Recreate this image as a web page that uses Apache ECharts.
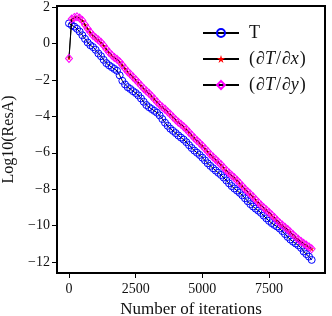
<!DOCTYPE html>
<html>
<head>
<meta charset="utf-8">
<script src="https://cdn.jsdelivr.net/npm/echarts@6/dist/echarts.min.js"></script>
<style>html,body{margin:0;padding:0;background:#fff;}#c{width:332px;height:316px;}</style>
</head>
<body>
<div id="c"></div>
<script>
const iterations = [0,100,200,300,400,500,600,700,800,900,1000,1100,1200,1300,1400,1500,1600,1700,1800,1900,2000,2100,2200,2300,2400,2500,2600,2700,2800,2900,3000,3100,3200,3300,3400,3500,3600,3700,3800,3900,4000,4100,4200,4300,4400,4500,4600,4700,4800,4900,5000,5100,5200,5300,5400,5500,5600,5700,5800,5900,6000,6100,6200,6300,6400,6500,6600,6700,6800,6900,7000,7100,7200,7300,7400,7500,7600,7700,7800,7900,8000,8100,8200,8300,8400,8500,8600,8700,8800,8900,9000,9100];
const resT = [1.10,1.00,0.92,0.80,0.65,0.45,0.25,0.05,-0.10,-0.20,-0.35,-0.55,-0.70,-0.90,-1.08,-1.20,-1.30,-1.40,-1.50,-1.75,-2.05,-2.25,-2.40,-2.50,-2.62,-2.72,-2.85,-3.02,-3.20,-3.38,-3.50,-3.60,-3.70,-3.80,-3.95,-4.15,-4.35,-4.52,-4.68,-4.80,-4.92,-5.05,-5.17,-5.28,-5.42,-5.58,-5.74,-5.88,-6.00,-6.12,-6.27,-6.42,-6.58,-6.72,-6.85,-6.98,-7.10,-7.22,-7.36,-7.52,-7.68,-7.83,-7.96,-8.08,-8.20,-8.34,-8.50,-8.66,-8.82,-8.95,-9.07,-9.18,-9.30,-9.45,-9.60,-9.74,-9.86,-9.96,-10.05,-10.16,-10.30,-10.46,-10.62,-10.76,-10.88,-10.98,-11.08,-11.22,-11.42,-11.56,-11.70,-11.88];
const resDx = [-0.80,1.32,1.42,1.45,1.38,1.25,1.02,0.80,0.60,0.42,0.30,0.18,0.05,-0.12,-0.32,-0.50,-0.65,-0.78,-0.88,-1.02,-1.20,-1.38,-1.56,-1.70,-1.85,-2.00,-2.16,-2.32,-2.48,-2.62,-2.75,-2.90,-3.06,-3.22,-3.38,-3.50,-3.62,-3.76,-3.90,-4.05,-4.20,-4.33,-4.45,-4.58,-4.72,-4.88,-5.04,-5.20,-5.34,-5.48,-5.62,-5.78,-5.94,-6.10,-6.24,-6.38,-6.52,-6.66,-6.82,-6.98,-7.12,-7.25,-7.38,-7.52,-7.68,-7.84,-8.00,-8.14,-8.28,-8.42,-8.58,-8.74,-8.88,-9.02,-9.15,-9.28,-9.42,-9.56,-9.72,-9.86,-9.98,-10.10,-10.22,-10.36,-10.50,-10.64,-10.76,-10.88,-10.98,-11.08,-11.18,-11.28];
const resDy = [-0.82,1.34,1.43,1.46,1.39,1.26,1.03,0.81,0.61,0.43,0.31,0.19,0.06,-0.11,-0.31,-0.49,-0.64,-0.77,-0.87,-1.01,-1.19,-1.37,-1.55,-1.69,-1.84,-1.99,-2.15,-2.31,-2.47,-2.61,-2.74,-2.89,-3.05,-3.21,-3.37,-3.49,-3.61,-3.75,-3.89,-4.04,-4.19,-4.32,-4.44,-4.57,-4.71,-4.87,-5.03,-5.19,-5.33,-5.47,-5.61,-5.77,-5.93,-6.09,-6.23,-6.37,-6.51,-6.65,-6.81,-6.97,-7.11,-7.24,-7.37,-7.51,-7.67,-7.83,-7.99,-8.13,-8.27,-8.41,-8.57,-8.73,-8.87,-9.01,-9.14,-9.27,-9.41,-9.55,-9.71,-9.85,-9.97,-10.09,-10.21,-10.35,-10.49,-10.63,-10.75,-10.87,-10.97,-11.07,-11.17,-11.27];
const xTicks = [0,2500,5000,7500];
const yTicks = [-12,-10,-8,-6,-4,-2,0,2];
const seriesNames = ['T','dTdx','dTdy'];

const F = 'Liberation Serif';
const pair = (ys) => iterations.map((x, i) => [x, ys[i]]);
const fmtMinus = (v) => String(v).replace('-', '\u2212');

const chart = echarts.init(document.getElementById('c'), null, {renderer: 'canvas'});
chart.setOption({
  animation: false,
  backgroundColor: '#fff',
  grid: {left: 57, right: 7, top: 6, bottom: 43, show: true, borderColor: '#000', borderWidth: 2, backgroundColor: 'transparent', containLabel: false, outerBoundsMode: 'none'},
  xAxis: {
    type: 'value', min: -450, max: 9600,
    name: 'Number of iterations', nameLocation: 'middle', nameGap: 25,
    nameTextStyle: {fontFamily: F, fontSize: 17, color: '#111'},
    axisLine: {show: false, onZero: false},
    splitLine: {show: false},
    axisTick: {show: true, inside: false, length: 5, lineStyle: {color: '#000', width: 1}, customValues: xTicks},
    axisLabel: {fontFamily: F, fontSize: 14, color: '#111', margin: 9, customValues: xTicks, formatter: fmtMinus}
  },
  yAxis: {
    type: 'value', min: -12.6, max: 2.055,
    name: 'Log10(ResA)', nameLocation: 'middle', nameGap: 39,
    nameTextStyle: {fontFamily: F, fontSize: 16, color: '#111'},
    axisLine: {show: false, onZero: false},
    splitLine: {show: false},
    axisTick: {show: true, inside: false, length: 5, lineStyle: {color: '#000', width: 1}, customValues: yTicks},
    axisLabel: {fontFamily: F, fontSize: 14, color: '#111', margin: 7, customValues: yTicks, formatter: fmtMinus}
  },
  legend: {
    orient: 'vertical', left: 197, top: 18,
    itemWidth: 36, itemHeight: 10, itemGap: 6,
    data: seriesNames,
    formatter: function (n) {
      if (n === 'T') return '{s|}{n|T}';
      if (n === 'dTdx') return '{s|}{n|(}{i|\u2202T}{n|/}{i|\u2202x}{n|)}';
      return '{s|}{n|(}{i|\u2202T}{n|/}{i|\u2202y}{n|)}';
    },
    textStyle: {
      fontFamily: F, fontSize: 18, color: '#111', lineHeight: 20,
      rich: {
        s: {width: 5},
        n: {fontFamily: F, fontSize: 18, color: '#111'},
        i: {fontFamily: F, fontSize: 18, fontStyle: 'italic', color: '#111', padding: [0, 1, 0, 1]}
      }
    }
  },
  series: [
    {
      name: 'T', type: 'line', data: pair(resT), showAllSymbol: true,
      symbol: 'circle', symbolSize: 7,
      lineStyle: {color: '#000', width: 1},
      itemStyle: {color: 'rgba(255,255,255,0)', borderColor: '#0000ff', borderWidth: 1},
      z: 2
    },
    {
      name: 'dTdx', type: 'line', data: pair(resDx), showAllSymbol: true,
      symbol: 'path://M0,-1L0.2245,-0.309L0.951,-0.309L0.363,0.118L0.588,0.809L0,0.382L-0.588,0.809L-0.363,0.118L-0.951,-0.309L-0.2245,-0.309Z',
      symbolSize: 5,
      lineStyle: {color: '#000', width: 1},
      itemStyle: {color: '#ff0000', borderWidth: 0},
      z: 3
    },
    {
      name: 'dTdy', type: 'line', data: pair(resDy), showAllSymbol: true,
      symbol: 'diamond', symbolSize: [7, 8],
      lineStyle: {color: '#000', width: 1},
      itemStyle: {color: 'rgba(255,255,255,0)', borderColor: '#ff00ff', borderWidth: 1},
      z: 4
    }
  ]
});
</script>
</body>
</html>
